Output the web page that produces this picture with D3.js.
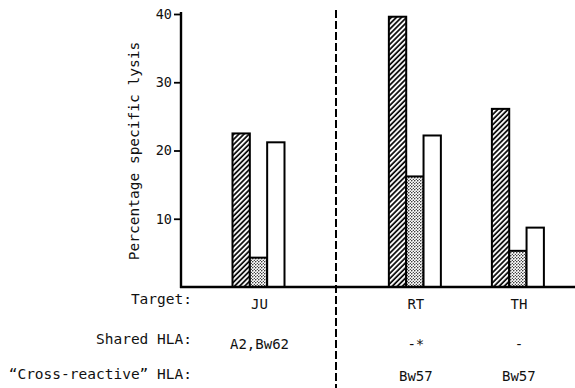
<!DOCTYPE html>
<html><head><meta charset="utf-8">
<script src="https://cdn.jsdelivr.net/npm/d3@7"></script>
<style>
html,body{margin:0;padding:0;background:#fff;}
text{font-family:"DejaVu Sans Mono","Liberation Mono",monospace;fill:#111;}
</style></head>
<body><svg id="c" width="575" height="388"></svg>
<script>
// ---- data ----
const targets = ["JU", "RT", "TH"];
const leftTargets = ["JU"];
const rightTargets = ["RT", "TH"];
const seriesNames = ["hatched", "stippled", "open"];
const hatchedValues = [22.5, 39.6, 26.1];
const stippledValues = [4.3, 16.2, 5.3];
const openValues = [21.2, 22.2, 8.7];
const sharedHLA = ["A2,Bw62", "-*", "-"];
const crossHLA = ["", "Bw57", "Bw57"];
const yTicks = [10, 20, 30, 40];
const rowLabels = ["Target:", "Shared HLA:", "\u201CCross-reactive\u201D HLA:"];
const yTitle = "Percentage specific lysis";

const svg = d3.select("#c");
const defs = svg.append("defs");
const hp = defs.append("pattern").attr("id","hatch").attr("patternUnits","userSpaceOnUse")
  .attr("width",3.6).attr("height",3.6).attr("patternTransform","rotate(45)");
hp.append("rect").attr("width",3.6).attr("height",3.6).attr("fill","#fff");
hp.append("line").attr("x1",1).attr("x2",1).attr("y1",0).attr("y2",3.6).attr("stroke","#000").attr("stroke-width",1.7);
const sp = defs.append("pattern").attr("id","stipple").attr("patternUnits","userSpaceOnUse")
  .attr("width",3).attr("height",3);
sp.append("rect").attr("width",3).attr("height",3).attr("fill","#fff");
sp.append("circle").attr("cx",0.8).attr("cy",0.8).attr("r",0.7).attr("fill","#000");
sp.append("circle").attr("cx",2.3).attr("cy",2.3).attr("r",0.6).attr("fill","#000");

const fills = {hatched:"url(#hatch)", stippled:"url(#stipple)", open:"#fff"};

const x0 = 181, xEnd = 575, xDiv = 336;
const y = d3.scaleLinear().domain([0, 40]).range([287, 14]);
const xLeft = d3.scaleBand().domain(leftTargets).range([x0, xDiv]);
const xRight = d3.scalePoint().domain(rightTargets).range([xDiv, xEnd]).padding(0.66).align(0.58);
const xc = t => leftTargets.includes(t) ? xLeft(t) + xLeft.bandwidth()/2 : xRight(t);
const x1 = d3.scaleBand().domain(seriesNames).range([-26, 26]).padding(0);

const data = [];
targets.forEach((t, i) => {
  const vals = [hatchedValues[i], stippledValues[i], openValues[i]];
  seriesNames.forEach((s, j) => data.push({t, s, v: vals[j]}));
});

svg.append("g").selectAll("rect").data(data).join("rect")
  .attr("x", d => xc(d.t) + x1(d.s))
  .attr("y", d => y(d.v))
  .attr("width", x1.bandwidth())
  .attr("height", d => y(0) - y(d.v))
  .attr("fill", d => fills[d.s])
  .attr("stroke", "#000").attr("stroke-width", 2);

// y axis
const yAxis = d3.axisLeft(y).tickValues(yTicks).tickSize(7).tickPadding(2);
const gy = svg.append("g").attr("transform", `translate(${x0},0)`).call(yAxis);
gy.select(".domain").remove();
gy.selectAll(".tick line").attr("stroke","#000").attr("stroke-width",1.8);
gy.selectAll(".tick text").style("font-size","13.5px").style("font-family","'DejaVu Sans Mono',monospace").attr("fill","#111");
svg.append("line").attr("x1",x0).attr("x2",x0).attr("y1",y(40)-2).attr("y2",y(0)+1)
  .attr("stroke","#000").attr("stroke-width",2.4);
svg.append("line").attr("x1",x0-1).attr("x2",xEnd).attr("y1",y(0)).attr("y2",y(0))
  .attr("stroke","#000").attr("stroke-width",2.4);

// divider
svg.append("line").attr("x1",xDiv).attr("x2",xDiv).attr("y1",10).attr("y2",388)
  .attr("stroke","#000").attr("stroke-width",2).attr("stroke-dasharray","8,3");

// y title
svg.append("text").attr("transform","translate(139,151) rotate(-90)")
  .attr("text-anchor","middle").style("font-size","14.5px").text(yTitle);

// row labels
const rowY = [304, 344, 379];
const valY = [309, 349, 381];
svg.append("g").selectAll("text").data(rowLabels).join("text")
  .attr("x", 192).attr("y", (d,i) => rowY[i]).attr("text-anchor","end")
  .style("font-size","14.5px").text(d => d);
const rows = [targets, sharedHLA, crossHLA];
rows.forEach((arr, r) => {
  svg.append("g").selectAll("text").data(arr).join("text")
    .attr("x", (d,i) => xc(targets[i]) + 1)
    .attr("y", valY[r]).attr("text-anchor","middle")
    .style("font-size","14px").text(d => d);
});
</script></body></html>
